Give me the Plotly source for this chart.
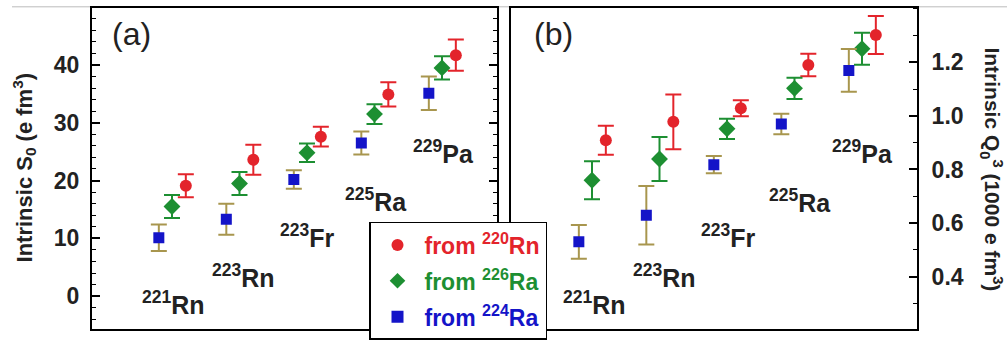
import plotly.graph_objects as go

# ---------------- data ----------------
nuclides = ["<sup>221</sup>Rn", "<sup>223</sup>Rn", "<sup>223</sup>Fr", "<sup>225</sup>Ra", "<sup>229</sup>Pa"]
series_names = ["from <sup>220</sup>Rn", "from <sup>226</sup>Ra", "from <sup>224</sup>Ra"]

s0_220Rn = [19.1, 23.6, 27.6, 34.9, 41.7]
s0_220Rn_err = [2.0, 2.6, 1.7, 2.1, 2.7]
s0_226Ra = [15.5, 19.5, 24.8, 31.5, 39.5]
s0_226Ra_err = [2.0, 2.0, 1.6, 1.7, 2.0]
s0_224Ra = [10.1, 13.3, 20.2, 26.5, 35.1]
s0_224Ra_err = [2.3, 2.7, 1.6, 2.0, 2.9]

q0_220Rn = [0.909, 0.978, 1.029, 1.190, 1.302]
q0_220Rn_err = [0.054, 0.102, 0.030, 0.042, 0.071]
q0_226Ra = [0.760, 0.839, 0.952, 1.103, 1.251]
q0_226Ra_err = [0.071, 0.082, 0.038, 0.040, 0.060]
q0_224Ra = [0.530, 0.629, 0.818, 0.970, 1.170]
q0_224Ra_err = [0.063, 0.109, 0.032, 0.038, 0.080]

s0_ticks = [0, 10, 20, 30, 40]
q0_ticks = [0.4, 0.6, 0.8, 1.0, 1.2]
q0_ticktext = ["0.4", "0.6", "0.8", "1.0", "1.2"]

# ---------------- style ----------------
W, H = 1007, 340
RED, GREEN, BLUE = "#e3242b", "#1d8f32", "#1414c8"
RED_E, GREEN_E, BLUE_E = "#e3242b", "#1d8f32", "#a8964e"
FONT = "Liberation Sans, Arial, Helvetica, sans-serif"

def px(x):
    return x / W

def py(y):
    return 1 - y / H

idx = list(range(len(nuclides)))
offsets = {"red": 0.205, "green": 0.0, "blue": -0.195}

fig = go.Figure()

def add_series(xaxis, yaxis, vals, errs, color, ecolor, symbol, size, off, name, group, showlegend):
    fig.add_trace(go.Scatter(
        x=[i + off for i in idx], y=vals,
        mode="markers",
        marker=dict(color=color, symbol=symbol, size=size, line=dict(width=0)),
        error_y=dict(type="data", array=errs, visible=True, color=ecolor, thickness=2, width=8),
        name=f"<span style='color:{color}'>{name}</span>",
        legendgroup=group,
        showlegend=showlegend,
        xaxis=xaxis, yaxis=yaxis,
    ))

# panel (a)
add_series("x", "y", s0_220Rn, s0_220Rn_err, RED, RED_E, "circle", 12, offsets["red"], series_names[0], "g1", True)
add_series("x", "y", s0_226Ra, s0_226Ra_err, GREEN, GREEN_E, "diamond", 13, offsets["green"], series_names[1], "g2", True)
add_series("x", "y", s0_224Ra, s0_224Ra_err, BLUE, BLUE_E, "square", 11, offsets["blue"], series_names[2], "g3", True)
# panel (b)
add_series("x2", "y2", q0_220Rn, q0_220Rn_err, RED, RED_E, "circle", 12, offsets["red"], series_names[0], "g1", False)
add_series("x2", "y2", q0_226Ra, q0_226Ra_err, GREEN, GREEN_E, "diamond", 13, offsets["green"], series_names[1], "g2", False)
add_series("x2", "y2", q0_224Ra, q0_224Ra_err, BLUE, BLUE_E, "square", 11, offsets["blue"], series_names[2], "g3", False)

y_dom = [py(338), py(8)]
xcommon = dict(showline=True, linewidth=2, linecolor="black", mirror=True,
               showticklabels=False, ticks="", showgrid=False, zeroline=False)
tickfont = dict(family=FONT, size=23, color="#222", weight="bold")

fig.update_layout(
    width=W, height=H,
    margin=dict(l=0, r=0, t=0, b=0),
    paper_bgcolor="white", plot_bgcolor="white",
    font=dict(family=FONT, color="#222"),
    xaxis=dict(domain=[px(92), px(497)], range=[-1.185, 4.815], anchor="y", **xcommon),
    xaxis2=dict(domain=[px(511), px(917)], range=[-1.2, 4.815], anchor="y2", **xcommon),
    yaxis=dict(domain=y_dom, range=[-5.7, 49.9], anchor="x",
               tickvals=s0_ticks, ticks="inside", ticklen=8, tickwidth=1.5, tickcolor="black",
               minor=dict(ticks="inside", ticklen=4, tickwidth=1.2, dtick=2, tick0=0, tickcolor="black", showgrid=False),
               showline=True, linewidth=2, linecolor="black", mirror="allticks",
               showgrid=False, zeroline=False, tickfont=tickfont, ticklabelstandoff=6),
    yaxis2=dict(domain=y_dom, range=[0.204, 1.404], anchor="x2", side="right",
                tickvals=q0_ticks, ticktext=q0_ticktext,
                ticks="inside", ticklen=8, tickwidth=1.5, tickcolor="black",
                minor=dict(ticks="inside", ticklen=4, tickwidth=1.2, dtick=0.1, tick0=0, tickcolor="black", showgrid=False),
                showline=True, linewidth=2, linecolor="black", mirror=True,
                showgrid=False, zeroline=False, tickfont=tickfont, ticklabelstandoff=8),
    legend=dict(x=px(369), y=py(228), xanchor="left", yanchor="top",
                bgcolor="white", bordercolor="black", borderwidth=1.5,
                font=dict(family=FONT, size=23, weight="bold"),
                itemsizing="constant", itemwidth=44, tracegroupgap=3),
    showlegend=True,
)

# thin gray line at the top (page edge)
fig.add_shape(type="line", xref="paper", yref="paper", x0=px(12), x1=1, y0=py(7), y1=py(7),
              line=dict(color="#bbbbbb", width=1), layer="below")

def ann(text, x, y, size, angle=0, weight="bold"):
    return dict(text=text, x=px(x), y=py(y), xref="paper", yref="paper", showarrow=False,
                xanchor="center", yanchor="middle", textangle=angle,
                font=dict(family=FONT, size=size, color="#222", weight=weight))

annotations = []
# axis titles
annotations.append(ann("Intrinsic S<sub>0</sub> (e fm<sup>3</sup>)", 24, 172, 22, -90))
annotations.append(ann("Intrinsic Q<sub>0</sub><sup>3</sup> (1000 e fm<sup>3</sup>)", 992, 174, 21, 90))
# panel labels
annotations.append(ann("(a)", 131, 35, 32, weight="normal"))
annotations.append(ann("(b)", 553, 35, 32, weight="normal"))
# nuclide labels
label_pos_a = [(173, 311), (243, 283), (307, 242), (376, 205), (443, 156)]
label_pos_b = [(594, 311), (664, 284), (728, 242), (800, 206), (862, 156)]
for name, (lx, ly) in zip(nuclides, label_pos_a):
    annotations.append(ann(name, lx, ly, 25))
for name, (lx, ly) in zip(nuclides, label_pos_b):
    annotations.append(ann(name, lx, ly, 25))
fig.update_layout(annotations=annotations)

fig.write_html("out.html")
